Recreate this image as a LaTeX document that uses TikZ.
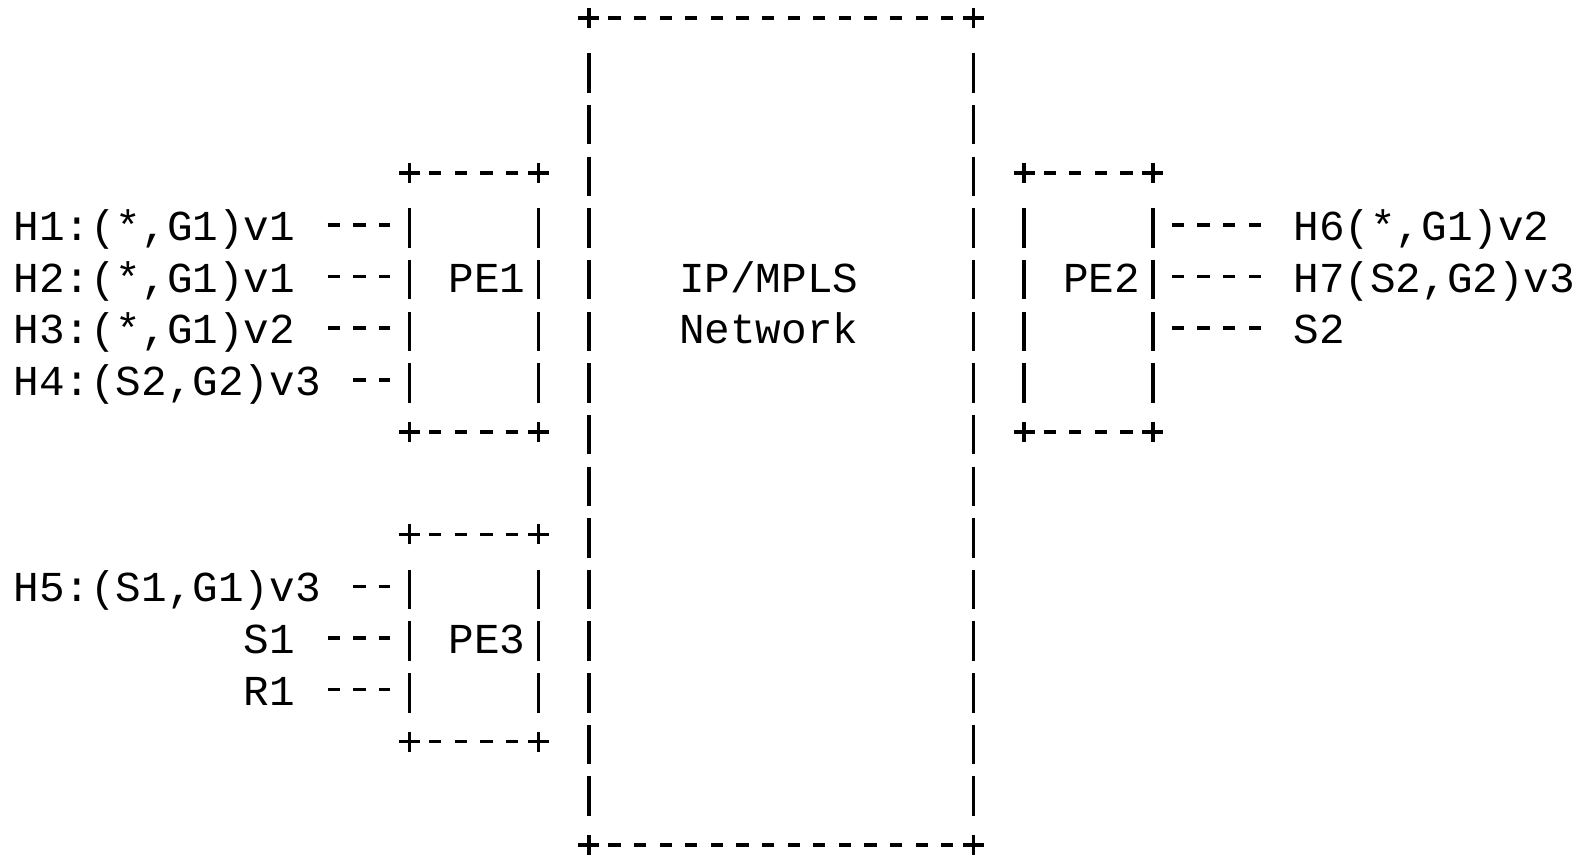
\documentclass[tikz,border=0pt]{standalone}
\usepackage{fontspec}
\newfontfamily\asciifont{Liberation Mono}
\usetikzlibrary{fit}

\begin{document}
\begin{tikzpicture}[
  x=5.12mm, y=-10.33mm,
  font=\asciifont\fontsize{24.27pt}{30pt}\selectfont,
  pen/.style={line width=0.7mm},
  hrule/.style={pen, dash pattern=on 2.45mm off 2.67mm,
    shorten <=3.90mm, shorten >=3.90mm},
  vrule/.style={pen, dash pattern=on 7.9mm off 2.43mm,
    shorten <=7.08mm, shorten >=5.68mm},
  link/.style={pen, dash pattern=on 2.45mm off 2.67mm,
    shorten <=6.46mm, shorten >=3.90mm},
  frame/.style={inner sep=0pt, draw=none},
  host/.style={inner sep=0pt, anchor=west, text height=6.2mm, text depth=0pt},
]
\useasboundingbox (-0.516,-0.354) rectangle (61.672,16.199);

% frame drawn in the ascii manner: +----+ and stacked bars
\newcommand{\asciiframe}[1]{%
  \draw[hrule] (#1.north west) -- (#1.north east);
  \draw[hrule] (#1.south west) -- (#1.south east);
  \draw[vrule] (#1.north west) -- (#1.south west);
  \draw[vrule] (#1.north east) -- (#1.south east);
  \foreach \corner in {north west, north east, south west, south east}{
    \draw[pen] ([xshift=-2.1mm]#1.\corner) -- ([xshift=2.1mm]#1.\corner);
    \draw[pen] ([yshift=-2.0mm]#1.\corner) -- ([yshift=2.0mm]#1.\corner);
  }
}

% =========================== boxes ========================================
\node[frame, fit={(22.5,0) (37.5,16)}] (net) {};
\node[frame, fit={(15.5,3) (20.5,8)}]  (pe1) {};
\node[frame, fit={(39.5,3) (44.5,8)}]  (pe2) {};
\node[frame, fit={(15.5,10) (20.5,14)}] (pe3) {};

\asciiframe{net}
\asciiframe{pe1}
\asciiframe{pe2}
\asciiframe{pe3}

\node[host] (netip)   at (26,5) {IP/MPLS};
\node[host] (netname) at (26,6) {Network};
\node[host] (pe1txt)  at (17,5) {PE1};
\node[host] (pe2txt)  at (41,5) {PE2};
\node[host] (pe3txt)  at (17,12) {PE3};

% =========================== hosts on PE1 =================================
\foreach \r/\name/\txt in {
  4/h1/{H1:(*,G1)v1},
  5/h2/{H2:(*,G1)v1},
  6/h3/{H3:(*,G1)v2},
  7/h4/{H4:(S2,G2)v3}
}{
  \node[host] (\name) at (0,\r) {\txt};
  \draw[link] (\name.east) -- (\name.east -| pe1.west);
}

% =========================== hosts on PE3 =================================
\node[host] (h5) at (0,11) {H5:(S1,G1)v3};
\node[host] (s1) at (9,12) {S1};
\node[host] (r1) at (9,13) {R1};
\foreach \name in {h5, s1, r1}
  \draw[link] (\name.east) -- (\name.east -| pe3.west);

% =========================== hosts on PE2 =================================
\foreach \r/\name/\txt in {
  4/h6/{H6(*,G1)v2},
  5/h7/{H7(S2,G2)v3},
  6/s2/{S2}
}{
  \node[host] (\name) at (50,\r) {\txt};
  \draw[link] (\name.west) -- (\name.west -| pe2.east);
}

\end{tikzpicture}
\end{document}
